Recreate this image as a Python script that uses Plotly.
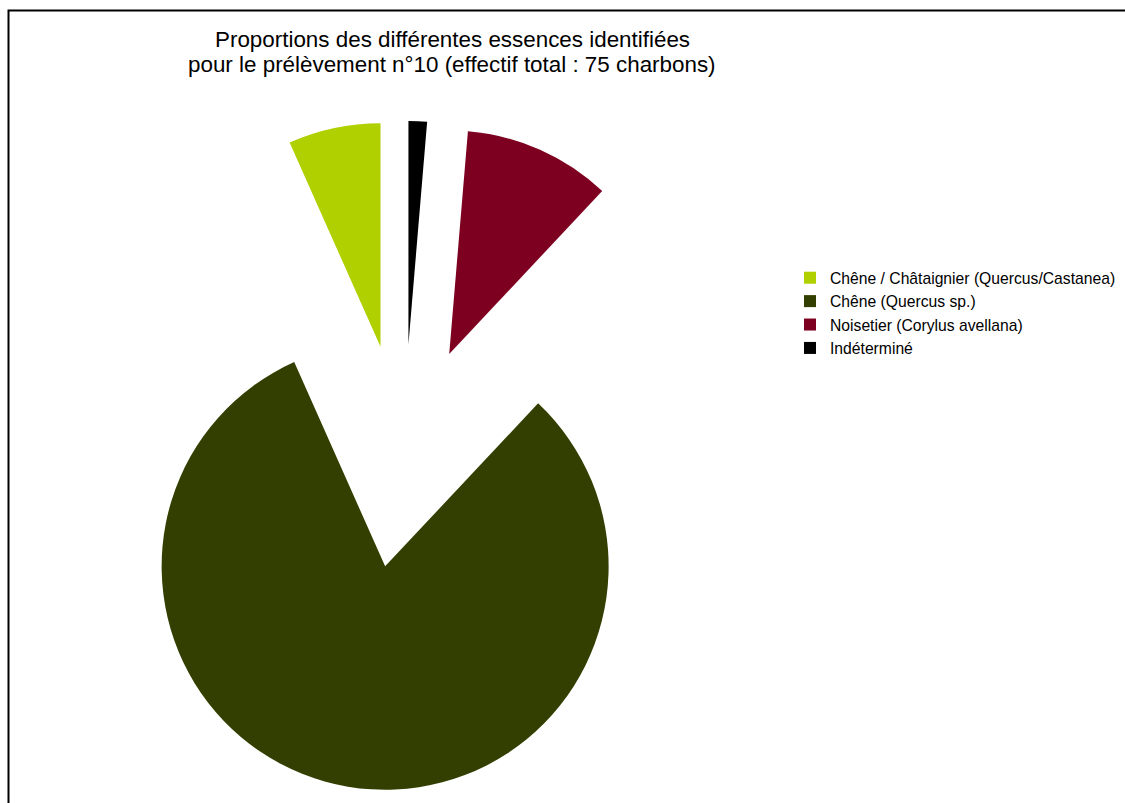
import plotly.graph_objects as go

# Data
categories = [
    "Chêne / Châtaignier (Quercus/Castanea)",
    "Chêne (Quercus sp.)",
    "Noisetier (Corylus avellana)",
    "Indéterminé",
]
counts = [5, 61, 8, 1]
colors = ["#b0d000", "#333f00", "#7e0021", "#000000"]
title_lines = [
    "Proportions des différentes essences identifiées",
    "pour le prélèvement n°10 (effectif total : 75 charbons)",
]

W, H = 1125, 803

# plotly's counterclockwise mode puts the first slice clockwise of 12 o'clock;
# rotate back by the first slice's angle so the sequence starts at 12 o'clock
first_angle = counts[0] / sum(counts) * 360

fig = go.Figure(
    go.Pie(
        labels=categories,
        values=counts,
        sort=False,
        direction="counterclockwise",
        rotation=-first_angle,
        pull=[0.5] * len(counts),
        textinfo="none",
        marker=dict(colors=colors, line=dict(width=0)),
        domain=dict(x=[0.0609, 0.6569], y=[0.0145, 0.8495]),
        showlegend=True,
    )
)

title_font = dict(size=22.4, family="Liberation Sans, Arial, sans-serif", color="black")
annotations = [
    dict(
        text=line,
        x=452 / W,
        y=1 - yc / H,
        xref="paper",
        yref="paper",
        xanchor="center",
        yanchor="middle",
        showarrow=False,
        font=title_font,
    )
    for line, yc in zip(title_lines, [40, 64.5])
]

fig.update_layout(
    width=W,
    height=H,
    margin=dict(l=0, r=0, t=0, b=0, autoexpand=False),
    paper_bgcolor="white",
    plot_bgcolor="white",
    font=dict(family="Liberation Sans, Arial, sans-serif", color="black"),
    annotations=annotations,
    legend=dict(
        x=790 / W,
        xanchor="left",
        y=1 - 261 / H,
        yanchor="top",
        font=dict(size=15.7, family="Liberation Sans, Arial, sans-serif", color="black"),
        bgcolor="rgba(0,0,0,0)",
        traceorder="normal",
    ),
    shapes=[
        dict(
            type="rect",
            xref="paper",
            yref="paper",
            x0=8.5 / W,
            x1=1.02,
            y0=-0.02,
            y1=1 - 10.5 / H,
            line=dict(color="black", width=2),
            fillcolor="rgba(0,0,0,0)",
        )
    ],
)

fig.write_html("out.html")
